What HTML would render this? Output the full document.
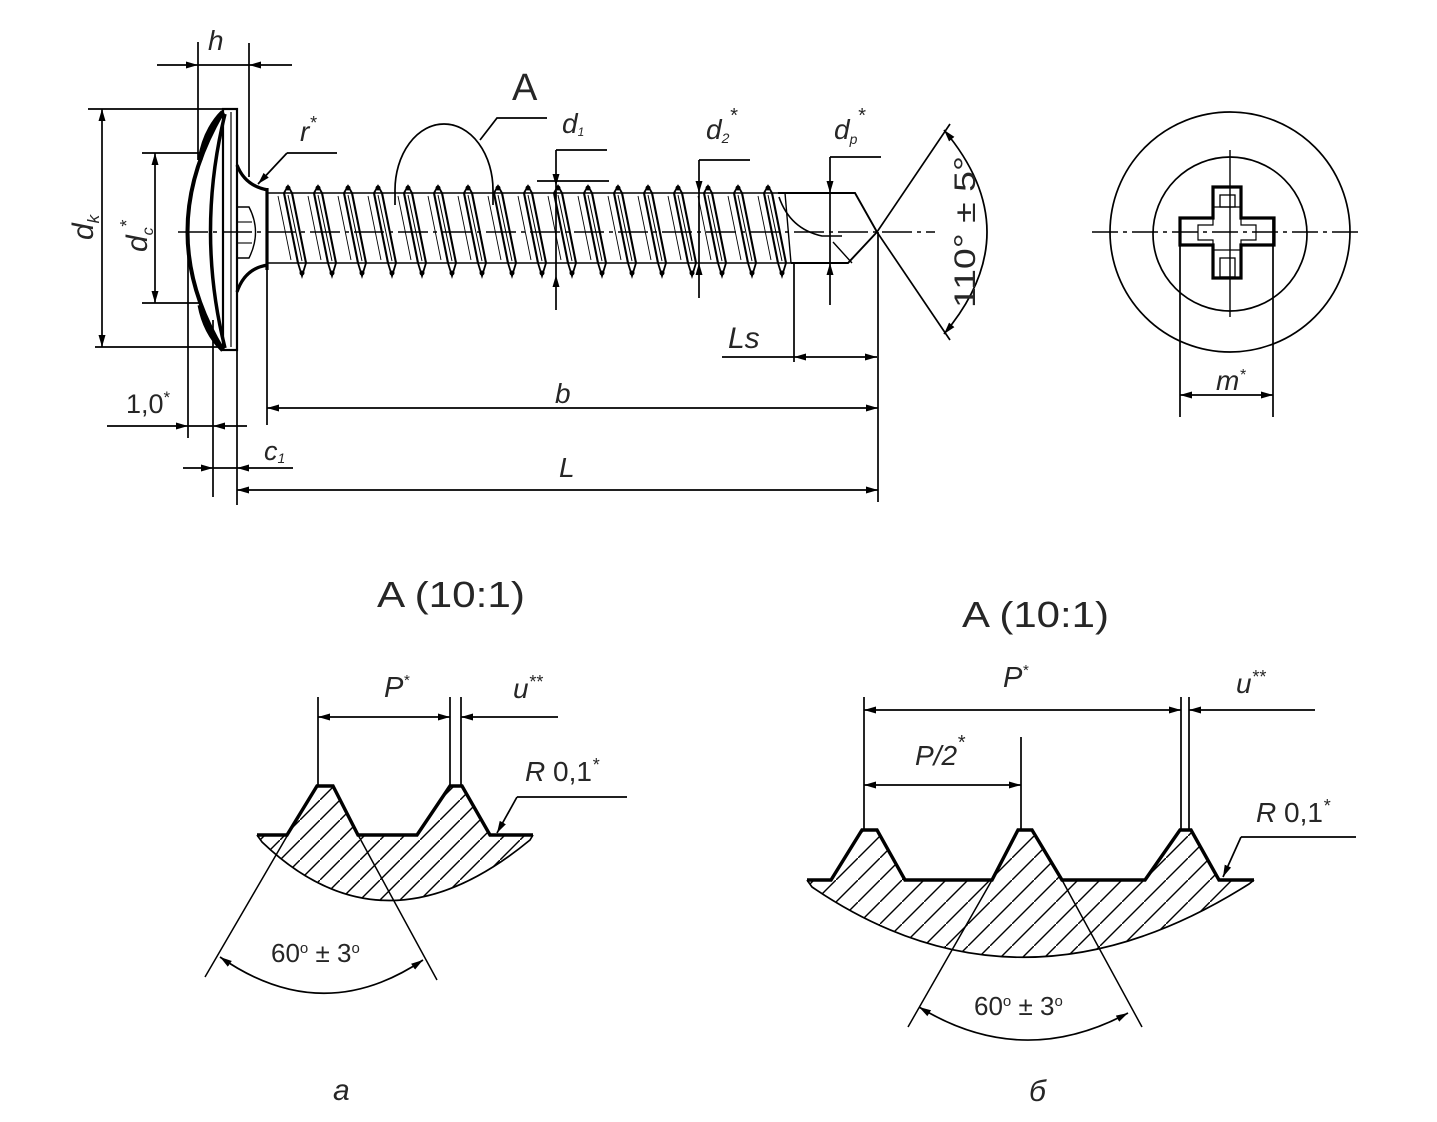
<!DOCTYPE html>
<html><head><meta charset="utf-8">
<style>
html,body{margin:0;padding:0;background:#fff;}
svg{display:block;}
text{font-family:"Liberation Sans",sans-serif;fill:#262626;}
.i{font-style:italic;}
</style></head>
<body>
<svg width="1437" height="1122" viewBox="0 0 1437 1122" xmlns="http://www.w3.org/2000/svg">
<defs>
  <marker id="a" viewBox="0 0 12 8" refX="12" refY="4" markerWidth="12" markerHeight="8" markerUnits="userSpaceOnUse" orient="auto-start-reverse">
    <path d="M0,0.5 L12,4 L0,7.5 z" fill="#000"/>
  </marker>
  <pattern id="h1" patternUnits="userSpaceOnUse" width="20" height="20">
    <line x1="-2" y1="22" x2="22" y2="-2" stroke="#000" stroke-width="1.4"/>
  </pattern>
  <pattern id="h2" patternUnits="userSpaceOnUse" width="22" height="22">
    <line x1="-2" y1="24" x2="24" y2="-2" stroke="#000" stroke-width="1.4"/>
  </pattern>
  <g id="t" stroke="#000" fill="none">
    <polyline points="-4,193 0,186 4,193" stroke-width="1.8"/>
    <line x1="-4" y1="193" x2="10" y2="263" stroke-width="2.1"/>
    <line x1="4" y1="193" x2="18" y2="263" stroke-width="2.1"/>
    <line x1="0" y1="195" x2="14" y2="261" stroke-width="1"/>
    <line x1="-10" y1="196" x2="3" y2="260" stroke-width="0.9"/>
    <polyline points="10,263 14,276 18,263" stroke-width="1.8"/>
    <circle cx="0" cy="188" r="2.5" fill="#000" stroke="none"/>
    <circle cx="14" cy="273" r="2.5" fill="#000" stroke="none"/>
  </g>
</defs>

<g stroke="#000" fill="none" stroke-width="1.7">
  <line x1="178" y1="232" x2="935" y2="232" stroke-width="1.4" stroke-dasharray="30 5 4 5"/>

  <line x1="88" y1="109" x2="237" y2="109"/>
  <line x1="95" y1="347" x2="223" y2="347"/>
  <line x1="102" y1="109" x2="102" y2="347" marker-start="url(#a)" marker-end="url(#a)"/>
  <line x1="142" y1="153" x2="200" y2="153"/>
  <line x1="142" y1="303" x2="200" y2="303"/>
  <line x1="155" y1="153" x2="155" y2="303" marker-start="url(#a)" marker-end="url(#a)"/>

  <line x1="198" y1="42" x2="198" y2="160"/>
  <line x1="249" y1="43" x2="249" y2="177"/>
  <line x1="188" y1="228" x2="188" y2="438"/>
  <line x1="213" y1="320" x2="213" y2="497"/>
  <line x1="237" y1="350" x2="237" y2="505"/>
  <line x1="267" y1="268" x2="267" y2="425"/>
  <line x1="878" y1="232" x2="878" y2="502"/>

  <line x1="157" y1="65" x2="198" y2="65" marker-end="url(#a)"/>
  <line x1="198" y1="65" x2="249" y2="65"/>
  <line x1="292" y1="65" x2="249" y2="65" marker-end="url(#a)"/>

  <rect x="223" y="109" width="14" height="241" stroke-width="2.2"/>
  <line x1="231" y1="112" x2="231" y2="347" stroke-width="1.2"/>
  <path d="M223,112 Q152,232 223,350" stroke-width="4"/>
  <path d="M225,114 Q196,232 225,348" stroke-width="3.5"/>
  <path d="M223,112 Q205,130 200,160" stroke-width="5"/>
  <path d="M223,350 Q205,332 200,305" stroke-width="5"/>
  <path d="M237,165 Q245,186 268,190" stroke-width="3.2"/>
  <path d="M237,292 Q245,268 268,265" stroke-width="3.2"/>
  <line x1="267" y1="188" x2="267" y2="270" stroke-width="3.2"/>
  <path d="M237,207 L249,207 Q262,232 249,258 L237,258" stroke-width="1.4"/>
  <line x1="237" y1="222" x2="252" y2="222" stroke-width="1.1"/>
  <line x1="237" y1="243" x2="252" y2="243" stroke-width="1.1"/>

  <line x1="337" y1="153" x2="287" y2="153"/>
  <line x1="287" y1="153" x2="258" y2="184" marker-end="url(#a)"/>

  <line x1="267" y1="193" x2="778" y2="193" stroke-width="1.5"/>
  <line x1="267" y1="263" x2="791" y2="263" stroke-width="1.5"/>
</g>

<use href="#t" x="288"/><use href="#t" x="318"/><use href="#t" x="348"/><use href="#t" x="378"/>
<use href="#t" x="408"/><use href="#t" x="438"/><use href="#t" x="468"/><use href="#t" x="498"/>
<use href="#t" x="528"/><use href="#t" x="558"/><use href="#t" x="588"/><use href="#t" x="618"/>
<use href="#t" x="648"/><use href="#t" x="678"/><use href="#t" x="708"/><use href="#t" x="738"/>
<use href="#t" x="768"/>

<g stroke="#000" fill="none" stroke-width="1.7">
  <path d="M395,205 L395,190 A49,66 0 0 1 493,190 L493,205" stroke-width="1.7"/>
  <polyline points="480,140 497,118 547,118"/>

  <line x1="556" y1="150" x2="607" y2="150"/>
  <line x1="537" y1="181" x2="609" y2="181"/>
  <line x1="556" y1="150" x2="556" y2="186" marker-end="url(#a)"/>
  <line x1="556" y1="186" x2="556" y2="275"/>
  <line x1="556" y1="310" x2="556" y2="275" marker-end="url(#a)"/>
  <line x1="699" y1="160" x2="750" y2="160"/>
  <line x1="699" y1="160" x2="699" y2="193" marker-end="url(#a)"/>
  <line x1="699" y1="193" x2="699" y2="263"/>
  <line x1="699" y1="298" x2="699" y2="263" marker-end="url(#a)"/>
  <line x1="830" y1="157" x2="881" y2="157"/>
  <line x1="830" y1="157" x2="830" y2="193" marker-end="url(#a)"/>
  <line x1="830" y1="193" x2="830" y2="263"/>
  <line x1="830" y1="305" x2="830" y2="263" marker-end="url(#a)"/>

  <path d="M778,193 L855,193 L877,232 L848,263 L791,263" stroke-width="1.9"/>
  <path d="M779,197 Q790,229 822,236 L842,236" stroke-width="1.6"/>
  <path d="M833,242 L852,263" stroke-width="1.4"/>
  <line x1="785" y1="193" x2="791" y2="263" stroke-width="1.4"/>

  <line x1="877" y1="232" x2="950" y2="124"/>
  <line x1="877" y1="232" x2="950" y2="340"/>
  <path d="M944,130 Q1030,232 944,334" marker-start="url(#a)" marker-end="url(#a)"/>

  <line x1="794" y1="263" x2="794" y2="362"/>
  <line x1="722" y1="357" x2="794" y2="357"/>
  <line x1="794" y1="357" x2="877" y2="357" marker-start="url(#a)" marker-end="url(#a)"/>

  <line x1="267" y1="408" x2="878" y2="408" marker-start="url(#a)" marker-end="url(#a)"/>
  <line x1="237" y1="490" x2="878" y2="490" marker-start="url(#a)" marker-end="url(#a)"/>

  <line x1="107" y1="426" x2="188" y2="426" marker-end="url(#a)"/>
  <line x1="188" y1="426" x2="213" y2="426"/>
  <line x1="247" y1="426" x2="213" y2="426" marker-end="url(#a)"/>
  <line x1="183" y1="468" x2="213" y2="468" marker-end="url(#a)"/>
  <line x1="213" y1="468" x2="237" y2="468"/>
  <line x1="293" y1="468" x2="237" y2="468" marker-end="url(#a)"/>

  <circle cx="1230" cy="232" r="120" stroke-width="1.7"/>
  <circle cx="1230" cy="234" r="77" stroke-width="1.7"/>
  <line x1="1092" y1="232" x2="1363" y2="232" stroke-width="1.4" stroke-dasharray="26 5 4 5"/>
  <line x1="1230" y1="150" x2="1230" y2="317" stroke-width="1.4"/>
  <polygon points="1213,187 1241,187 1241,218 1274,218 1274,245 1241,245 1241,278 1213,278 1213,245 1180,245 1180,218 1213,218" stroke-width="3.2"/>
  <rect x="1220" y="195" width="15" height="12" stroke-width="1.3"/>
  <rect x="1220" y="258" width="15" height="19" stroke-width="1.3"/>
  <polygon points="1213,207 1241,207 1241,225 1256,225 1256,240 1241,240 1241,250 1213,250 1213,240 1198,240 1198,225 1213,225" stroke-width="1.2"/>
  <line x1="1180" y1="218" x2="1180" y2="417"/>
  <line x1="1273" y1="218" x2="1273" y2="417"/>
  <line x1="1180" y1="395" x2="1273" y2="395" marker-start="url(#a)" marker-end="url(#a)"/>

  <path d="M257,835 L287,835 L317,786 L333,786 L358,835 L417,835 L450,786 L462,786 L490,835 L533,835 L530,840 Q385,960 262,842 Z" fill="url(#h1)" stroke="none"/>
  <path d="M257,835 L287,835 L317,786 L333,786 L358,835 L417,835 L450,786 L462,786 L490,835 L533,835" stroke-width="3.4"/>
  <path d="M257,835 L262,842 Q385,960 530,840 L533,835" stroke-width="1.7"/>
  <line x1="318" y1="697" x2="318" y2="786"/>
  <line x1="450" y1="697" x2="450" y2="786"/>
  <line x1="461" y1="697" x2="461" y2="786"/>
  <line x1="318" y1="717" x2="450" y2="717" marker-start="url(#a)" marker-end="url(#a)"/>
  <line x1="558" y1="717" x2="461" y2="717" marker-end="url(#a)"/>
  <line x1="627" y1="797" x2="517" y2="797"/>
  <line x1="517" y1="797" x2="497" y2="833" marker-end="url(#a)"/>
  <line x1="205" y1="977" x2="290" y2="831" stroke-width="1.5"/>
  <line x1="437" y1="980" x2="357" y2="833" stroke-width="1.5"/>
  <path d="M220,957 Q322,1028 423,960" marker-start="url(#a)" marker-end="url(#a)"/>

  <path d="M807,880 L831,880 L862,830 L877,830 L905,880 L992,880 L1018,830 L1032,830 L1062,880 L1145,880 L1180,830 L1191,830 L1219,880 L1254,880 L1249,884 Q1020,1029 812,887 Z" fill="url(#h2)" stroke="none"/>
  <path d="M807,880 L831,880 L862,830 L877,830 L905,880 L992,880 L1018,830 L1032,830 L1062,880 L1145,880 L1180,830 L1191,830 L1219,880 L1254,880" stroke-width="3.4"/>
  <path d="M807,880 L812,887 Q1020,1029 1249,884 L1254,880" stroke-width="1.7"/>
  <line x1="864" y1="697" x2="864" y2="830"/>
  <line x1="1021" y1="737" x2="1021" y2="830"/>
  <line x1="1181" y1="697" x2="1181" y2="830"/>
  <line x1="1189" y1="697" x2="1189" y2="830"/>
  <line x1="864" y1="710" x2="1181" y2="710" marker-start="url(#a)" marker-end="url(#a)"/>
  <line x1="1315" y1="710" x2="1189" y2="710" marker-end="url(#a)"/>
  <line x1="864" y1="785" x2="1021" y2="785" marker-start="url(#a)" marker-end="url(#a)"/>
  <line x1="1356" y1="837" x2="1241" y2="837"/>
  <line x1="1241" y1="837" x2="1223" y2="877" marker-end="url(#a)"/>
  <line x1="908" y1="1027" x2="992" y2="880" stroke-width="1.5"/>
  <line x1="1142" y1="1027" x2="1062" y2="880" stroke-width="1.5"/>
  <path d="M919,1007 Q1022,1070 1128,1013" marker-start="url(#a)" marker-end="url(#a)"/>
</g>

<text x="512" y="100" font-size="38">A</text>
<text class="i" x="208" y="50" font-size="28">h</text>
<text class="i" x="300" y="141" font-size="28">r<tspan dy="-12" font-size="18">*</tspan></text>
<text class="i" transform="translate(93,240) rotate(-90)" font-size="30">d<tspan dy="6" font-size="17">k</tspan></text>
<text class="i" transform="translate(147,252) rotate(-90)" font-size="30">d<tspan dy="6" font-size="16">c</tspan><tspan dy="-20" font-size="18">*</tspan></text>
<text class="i" x="562" y="133" font-size="28">d<tspan dy="3" font-size="12">1</tspan></text>
<text class="i" x="706" y="139" font-size="28">d<tspan dy="4" font-size="14">2</tspan><tspan dy="-21" font-size="20">*</tspan></text>
<text class="i" x="834" y="139" font-size="28">d<tspan dy="5" font-size="14">p</tspan><tspan dy="-22" font-size="20">*</tspan></text>
<text transform="translate(975,232) rotate(-90)" text-anchor="middle" font-size="30" textLength="152" lengthAdjust="spacingAndGlyphs">110° ± 5°</text>
<text class="i" x="728" y="348" font-size="30">Ls</text>
<text x="126" y="413" font-size="27">1,0<tspan dy="-10" font-size="17">*</tspan></text>
<text class="i" x="264" y="460" font-size="27">c<tspan dy="3" font-size="14">1</tspan></text>
<text class="i" x="555" y="403" font-size="28">b</text>
<text class="i" x="559" y="477" font-size="28">L</text>
<text class="i" x="1216" y="390" font-size="28">m<tspan dy="-10" font-size="16">*</tspan></text>

<text x="377" y="607" font-size="36" textLength="148" lengthAdjust="spacingAndGlyphs">A (10:1)</text>
<text x="962" y="627" font-size="36" textLength="147" lengthAdjust="spacingAndGlyphs">A (10:1)</text>

<text class="i" x="384" y="697" font-size="29">P<tspan dy="-12" font-size="15">*</tspan></text>
<text class="i" x="513" y="698" font-size="28">u<tspan dy="-10" font-size="18">**</tspan></text>
<text class="i" x="525" y="781" font-size="28">R <tspan font-style="normal">0,1</tspan><tspan dy="-10" font-size="18">*</tspan></text>
<text x="271" y="962" font-size="26">60<tspan dy="-9" font-size="15">o</tspan><tspan dy="9"> ± 3</tspan><tspan dy="-9" font-size="15">o</tspan></text>

<text class="i" x="1003" y="687" font-size="29">P<tspan dy="-12" font-size="15">*</tspan></text>
<text class="i" x="1236" y="693" font-size="28">u<tspan dy="-10" font-size="18">**</tspan></text>
<text class="i" x="915" y="765" font-size="28">P/2<tspan dy="-16" font-size="20">*</tspan></text>
<text class="i" x="1256" y="822" font-size="28">R <tspan font-style="normal">0,1</tspan><tspan dy="-10" font-size="18">*</tspan></text>
<text x="974" y="1015" font-size="26">60<tspan dy="-9" font-size="15">o</tspan><tspan dy="9"> ± 3</tspan><tspan dy="-9" font-size="15">o</tspan></text>

<text class="i" x="333" y="1100" font-size="30">а</text>
<text class="i" x="1029" y="1101" font-size="30">б</text>
</svg>
</body></html>
